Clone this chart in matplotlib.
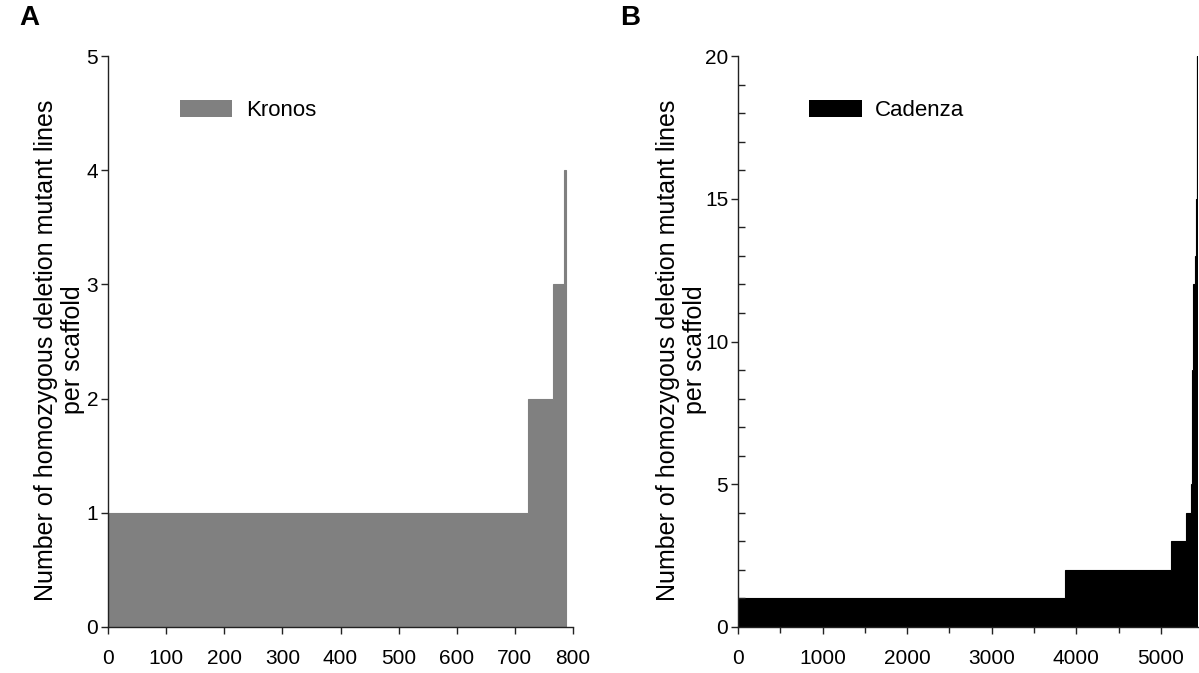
import numpy as np
import matplotlib
matplotlib.use("Agg")
import matplotlib.pyplot as plt
from matplotlib.patches import Patch
from matplotlib.ticker import MultipleLocator

plt.rcParams['font.family'] = ['Liberation Sans', 'DejaVu Sans']

# Kronos: number of deletion lines per scaffold (level) and how many scaffolds have it
kronos_levels = [1, 2, 3, 4]
kronos_counts = [723, 43, 19, 3]

# Cadenza
cadenza_levels = [1, 2, 3, 4, 5, 6, 7, 8, 9, 10, 11, 12, 13, 14, 15, 16, 17, 18, 19, 20]
cadenza_counts = [3863, 1255, 178, 64, 5, 3, 3, 2, 2, 2, 2, 30, 12, 1, 1, 1, 1, 1, 1, 2]

ylabel = "Number of homozygous deletion mutant lines\nper scaffold"

fig = plt.figure(figsize=(11.99, 6.73), dpi=100)
W, H = 1199, 673

def axes_px(left, right, top, bottom):
    return fig.add_axes([left / W, 1 - bottom / H, (right - left) / W, (bottom - top) / H])

axA = axes_px(108, 573, 56, 627)
axB = axes_px(738, 1198, 56, 627)

def draw(ax, levels, counts, color, xmax, ymax, xmajor, ymajor, label, labx):
    edges = np.concatenate([[0], np.cumsum(counts)])
    ax.stairs(levels, edges, fill=True, facecolor=color, edgecolor=color,
              baseline=0, linewidth=0.8)
    ax.set_xlim(0, xmax)
    ax.set_ylim(0, ymax)
    ax.xaxis.set_major_locator(MultipleLocator(xmajor))
    ax.yaxis.set_major_locator(MultipleLocator(ymajor))
    for s in ['top', 'right']:
        ax.spines[s].set_visible(False)
    for s in ['left', 'bottom']:
        ax.spines[s].set_linewidth(1.0)
        ax.spines[s].set_color('#222222')
        ax.spines[s].set_zorder(3)
    ax.tick_params(axis='both', which='major', direction='out', length=5, width=1.0,
                   labelsize=15, color='#222222')
    ax.tick_params(axis='y', which='major', pad=2)
    ax.tick_params(axis='x', which='major', pad=11)
    ax.set_ylabel(ylabel, fontsize=18, linespacing=1.15)
    ax.yaxis.set_label_coords(labx, 0.485)
    ax.legend(handles=[Patch(facecolor=color, edgecolor='none', label=label)],
              loc='center left', bbox_to_anchor=(0.155, 0.904), frameon=False,
              fontsize=16, handlelength=2.35, handleheight=0.8, handletextpad=0.6,
              borderpad=0, borderaxespad=0)

draw(axA, kronos_levels, kronos_counts, '#808080', 800, 5, 100, 1, 'Kronos', -0.05)
draw(axB, cadenza_levels, cadenza_counts, '#000000', 5440, 20, 1000, 5, 'Cadenza', -0.068)

axB.yaxis.set_minor_locator(MultipleLocator(1))
axB.xaxis.set_minor_locator(MultipleLocator(500))
axB.tick_params(axis='y', which='minor', direction='in', length=5, width=1.0, color='#222222')
axB.tick_params(axis='x', which='minor', direction='out', length=4, width=1.0, color='#222222')

fig.text(29 / W, 1 - 18 / H, 'A', fontsize=20, fontweight='bold', ha='center', va='center')
fig.text(630 / W, 1 - 18 / H, 'B', fontsize=20, fontweight='bold', ha='center', va='center')

fig.savefig('out.png', dpi=100)
